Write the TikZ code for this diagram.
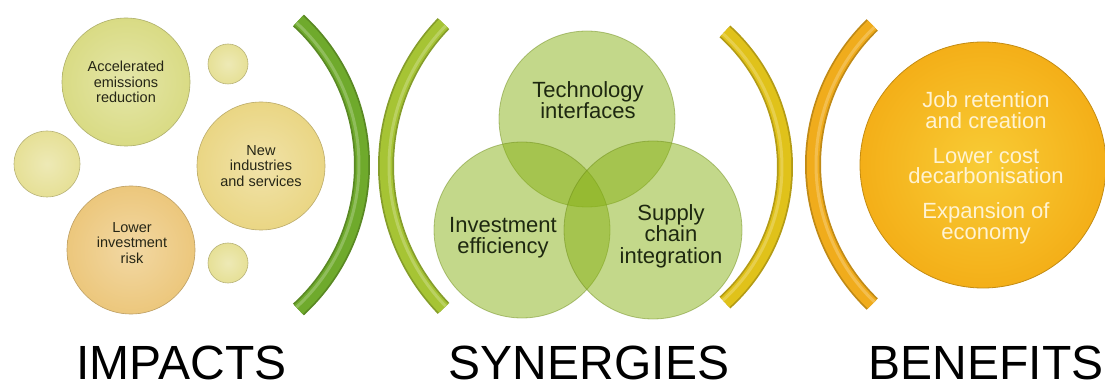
\documentclass[tikz,border=0pt]{standalone}
\usepackage{fontspec}
\setmainfont{Liberation Sans}
\definecolor{accel}{HTML}{D9DB84}
\definecolor{newind}{HTML}{EAD684}
\definecolor{lower}{HTML}{ECC77C}
\definecolor{smallb}{HTML}{E6E096}
\definecolor{arcG}{HTML}{6FAA2C}
\definecolor{arcYG}{HTML}{A6C434}
\definecolor{arcY}{HTML}{E0C21A}
\definecolor{arcO}{HTML}{F0AC1C}
\definecolor{syn}{HTML}{88B216}
\definecolor{ben}{HTML}{F4AF18}
\definecolor{bentext}{HTML}{FFF3D2}
\definecolor{txtdark}{HTML}{262616}
\definecolor{txtsyn}{HTML}{1E2810}
\newcommand{\parenarc}[6]{%
  \draw[line width=16pt, #6!80!black] plot[domain=#4:#5, samples=90] ({#1+#3*cos(\x)},{#2+#3*sin(\x)});
  \draw[line width=12.5pt, #6] plot[domain=#4:#5, samples=90] ({#1+#3*cos(\x)},{#2+#3*sin(\x)});
  \draw[line width=3pt, #6!78!white] plot[domain=#4:#5, samples=90] ({#1+(#3-3)*cos(\x)},{#2+(#3-3)*sin(\x)});
}
\begin{document}
\begin{tikzpicture}[x=1pt,y=-1pt,
  bubble/.style={circle, inner sep=0pt, align=center, inner color=#1!70!white, outer color=#1, draw=#1!80!black, line width=0.6pt, font=\fontsize{14.5}{15.5}\selectfont, text=txtdark},
  syncirc/.style={circle, inner sep=0pt, fill=syn, fill opacity=0.5, draw=syn!75!black, draw opacity=0.45, line width=0.8pt},
  syntext/.style={align=center, inner sep=0pt, font=\fontsize{22}{21.5}\selectfont, text=txtsyn},
  bubtext/.style={align=center, inner sep=0pt, font=\fontsize{14.5}{15.5}\selectfont, text=txtdark},
  title/.style={font=\fontsize{48}{50}\selectfont, anchor=base, inner sep=0pt, text=black},
]
\useasboundingbox[fill=white] (0,0) rectangle (1105,387);

% IMPACTS bubbles
\node[bubble=accel, minimum size=128pt] (accel) at (126,82) {Accelerated\\emissions\\reduction};
\node[bubble=newind, minimum size=128pt] (newind) at (261,166) {New\\industries\\and services};
\node[bubble=lower, minimum size=128pt] (lower) at (131,250) {};
\node[bubtext] (lowertext) at (132,243) {Lower\\investment\\risk};
\node[bubble=smallb, minimum size=40pt] (s1) at (228,64) {};
\node[bubble=smallb, minimum size=40pt] (s2) at (228,263) {};
\node[bubble=smallb, minimum size=66pt] (s3) at (47,164) {};

% brackets
\parenarc{166}{165}{196}{-47.5}{47.5}{arcG}
\parenarc{591}{166}{205}{136}{224}{arcYG}
\parenarc{602}{167}{183}{-47.8}{47.8}{arcY}
\parenarc{1007}{164.5}{194}{134}{226}{arcO}

% SYNERGIES circles
\node[syncirc, minimum size=176pt] (tech) at (587,119) {};
\node[syncirc, minimum size=176pt] (invest) at (522,230) {};
\node[syncirc, minimum size=178pt] (supply) at (653,230) {};
\node[syntext] (techtext) at (588,100) {Technology\\interfaces};
\node[syntext] (investtext) at (503,237.5) {Investment\\efficiency};
\node[syntext] (supplytext) at (671,236) {Supply\\chain\\integration};

% BENEFITS circle
\node[circle, inner sep=0pt, minimum size=246pt, inner color=ben!75!yellow!85!white, outer color=ben, draw=ben!80!black, line width=0.8pt] (benefit) at (983,165) {};
\node[align=center, inner sep=0pt, text=bentext, font=\fontsize{22}{20.5}\selectfont] (bentext) at (986,168)
  {Job retention\\and creation\\[14.5pt]Lower cost\\decarbonisation\\[14.5pt]Expansion of\\economy};

% titles
\node[title] (impacts) at (181.5,379) {IMPACTS};
\node[title] (synergies) at (589,379) {SYNERGIES};
\node[title] (benefits) at (986,379) {BENEFITS};
\end{tikzpicture}
\end{document}
